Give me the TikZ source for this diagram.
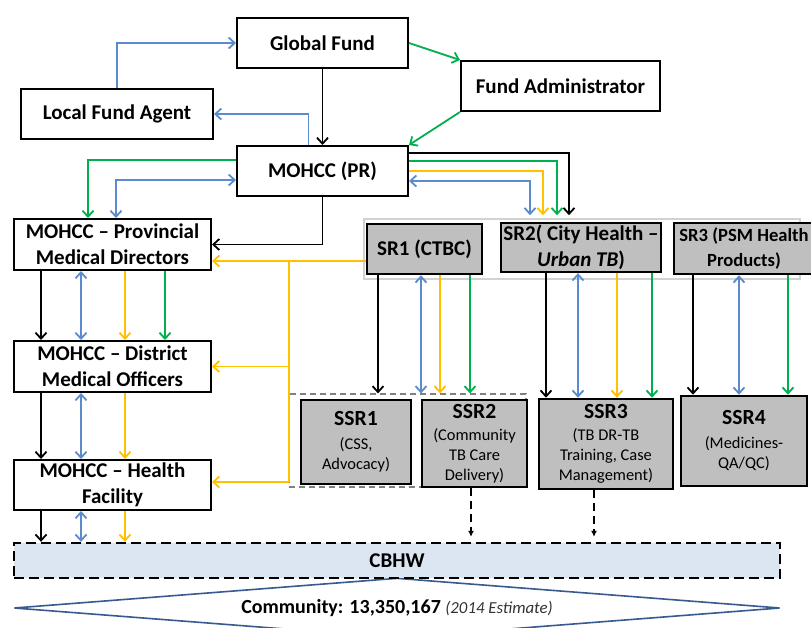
\documentclass[tikz,border=0pt]{standalone}
\usepackage{fontspec}
\setmainfont{Carlito}
\usetikzlibrary{arrows.meta,calc,shapes.geometric}

\definecolor{fundblue}{RGB}{91,139,205}
\definecolor{fundgreen}{RGB}{0,176,80}
\definecolor{fundyellow}{RGB}{255,192,0}
\definecolor{boxgrey}{RGB}{191,191,191}
\definecolor{cbhwblue}{RGB}{220,230,242}
\definecolor{diamblue}{RGB}{55,90,145}

\newcommand\ssrtitle[1]{{\bfseries\fontsize{10.8}{13}\selectfont #1}}

\begin{document}
\begin{tikzpicture}[
    x=0.5pt, y=-0.5pt,
    >={Straight Barb[length=3pt,width=5.5pt]},
    box/.style={draw, line width=1pt, fill=white, inner sep=1pt, align=center,
      minimum height=25pt, font=\bfseries\fontsize{10.5}{13}\selectfont},
    srbox/.style={box, fill=boxgrey, line width=1.3pt},
    ssrbox/.style={srbox, font=\mdseries\fontsize{8.2}{10}\selectfont},
    link/.style={line width=0.9pt},
    blk/.style={link, ->, black},
    grn/.style={link, ->, fundgreen},
    yel/.style={link, ->, fundyellow},
    blu/.style={link, ->, fundblue},
    bluboth/.style={link, <->, fundblue}
  ]
    \path[use as bounding box, fill=white] (0,0) rectangle (811,628);

    % Top level ----------------------------------------------------
    \node[box, minimum width=85.5pt] (gf) at (322.5,43) {Global Fund};
    \node[box, minimum width=96pt] (lfa) at (117,114) {Local Fund Agent};
    \node[box, minimum width=99.5pt] (fa) at (560.5,86) {Fund Administrator};
    \node[box, minimum width=85.5pt] (pr) at (322.5,171) {MOHCC (PR)};

    % MOHCC column -------------------------------------------------
    \node[box, minimum width=98.5pt, minimum height=25.5pt] (pmd) at (112.5,244.5)
      {MOHCC – Provincial\\Medical Directors};
    \node[box, minimum width=98.5pt, minimum height=25.5pt] (dmo) at (112.5,366.5)
      {MOHCC – District\\Medical Officers};
    \node[box, minimum width=98.5pt] (hf) at (112.5,485)
      {MOHCC – Health\\Facility};

    % Sub-recipients -----------------------------------------------
    \node[draw=gray!35, line width=0.8pt, minimum width=218pt, minimum height=30pt]
      (srframe) at (582,249) {};
    \node[srbox, minimum width=57.5pt] (sr1) at (424.5,249) {SR1 (CTBC)};
    \node[srbox, minimum width=80pt, minimum height=23.5pt] (sr2) at (581,247.5)
      {SR2( City Health –\\\textit{Urban TB})};
    \node[srbox, minimum width=70pt, minimum height=25.5pt,
      font=\bfseries\fontsize{9.3}{12.5}\selectfont] (sr3) at (744,248.5)
      {SR3 (PSM Health\\Products)};

    % Sub-sub-recipients -------------------------------------------
    \node[draw=gray, densely dashed, line width=0.6pt, minimum width=118.5pt,
      minimum height=46.5pt] (ssrframe) at (407.5,440.5) {};
    \node[ssrbox, minimum width=55pt, minimum height=42pt] (ssr1) at (356,442)
      {\ssrtitle{SSR1}\\[2pt](CSS,\\Advocacy)};
    \node[ssrbox, minimum width=52.5pt, minimum height=43.5pt] (ssr2) at (474.5,443.5)
      {\ssrtitle{SSR2}\\[1pt](Community\\TB Care\\Delivery)};
    \node[ssrbox, minimum width=67pt, minimum height=45pt] (ssr3) at (606,444)
      {\ssrtitle{SSR3}\\[1pt](TB DR-TB\\Training, Case\\Management)};
    \node[ssrbox, minimum width=63pt, minimum height=45pt] (ssr4) at (744,441)
      {\ssrtitle{SSR4}\\[2pt](Medicines-\\QA/QC)};

    % Community ----------------------------------------------------
    \node[diamond, draw=diamblue, line width=0.8pt, aspect=12, inner sep=0pt,
      minimum width=383pt, minimum height=30pt, font=\bfseries\fontsize{10}{12}\selectfont]
      (comm) at (397,608)
      {Community: 13,350,167 {\mdseries\itshape\fontsize{8.4}{10}\selectfont\color{black!80} (2014 Estimate)}};
    \node[draw, line width=1.2pt, dash pattern=on 5pt off 2.5pt, fill=cbhwblue,
      minimum width=383pt, minimum height=17.5pt,
      font=\bfseries\fontsize{10.5}{13}\selectfont] (cbhw) at (397,560.5) {CBHW};

    % Global Fund links --------------------------------------------
    \draw[blk] (gf) -- (pr);
    \draw[grn] (gf.east) -- (fa.north west);
    \draw[grn] (fa.south west) -- (pr.north east);
    \draw[blu] (lfa.north) |- (gf.west);
    \draw[blu] ($(pr.north)+(-14,0)$) |- (lfa.east);

    % PR to provinces
    \draw[grn] ($(pr.west)+(0,-11)$) -| ($(pmd.north)+(-24.5,0)$);
    \draw[bluboth] ($(pr.west)+(0,9)$) -| ($(pmd.north)+(3.5,0)$);
    \draw[blk] (pr.south) |- (pmd.east);

    % PR to sub-recipients
    \draw[blk] ($(pr.east)+(0,-18)$) -| ($(srframe.north)+(-13,-3)$);
    \draw[grn] ($(pr.east)+(0,-10)$) -| ($(srframe.north)+(-25,-3)$);
    \draw[yel] (pr.east) -| ($(srframe.north)+(-39,-3)$);
    \draw[bluboth] ($(pr.east)+(0,10)$) -| ($(srframe.north)+(-52,-3)$);

    % Yellow bus from SR1 ------------------------------------------
    \coordinate (bustop) at (289,261);
    \coordinate (busend) at (289,482);
    \draw[yel] ($(sr1.west)+(0,12)$) -- ($(pmd.east)+(0,16.5)$);
    \draw[link, fundyellow] (bustop) -- (busend);
    \draw[yel] (bustop |- dmo.east) -- (dmo.east);
    \draw[yel] (busend) -- (busend -| hf.east);

    % Down the MOHCC column
    \foreach \dx/\sty in {-71.5/blk, -31.5/bluboth, 12.5/yel}
      \foreach \up/\down in {pmd/dmo, dmo/hf, hf/cbhw}
        \draw[\sty] ($(\up.south)+(\dx,0)$) coordinate (t) -- (t |- \down.north);
    \draw[grn] ($(pmd.south)+(52.5,0)$) coordinate (t) -- (t |- dmo.north);

    % SR to SSR
    \foreach \dx/\sty in {-46.5/blk, -3.5/bluboth, 15.5/yel, 45.5/grn}
      \draw[\sty] ($(sr1.south)+(\dx,0)$) coordinate (t) -- (t |- ssrframe.north);
    \foreach \dx/\sty in {-35/blk, -3/bluboth, 36/yel, 71/grn}
      \draw[\sty] ($(sr2.south)+(\dx,0)$) coordinate (t) -- (t |- ssr3.north);
    \foreach \dx/\sty in {-51/blk, -5/bluboth, 44/grn}
      \draw[\sty] ($(sr3.south)+(\dx,0)$) coordinate (t) -- (t |- ssr4.north);

    % SSR to CBHW (dashed)
    \draw[line width=1pt, dash pattern=on 4pt off 2.5pt, -{Latex[length=3pt,width=3pt]}]
      ($(ssr2.south)+(-3.5,0)$) coordinate (t) -- ($(t |- cbhw.north)+(0,-5)$);
    \draw[line width=1pt, dash pattern=on 4pt off 2.5pt, -{Latex[length=3pt,width=3pt]}]
      ($(ssr3.south)+(-12,0)$) coordinate (t) -- ($(t |- cbhw.north)+(0,-5)$);

  \end{tikzpicture}
\end{document}
